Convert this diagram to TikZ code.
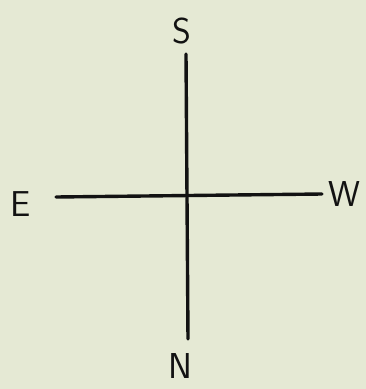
\documentclass[tikz,border=0pt]{standalone}
\usepackage{tikz}
\usepackage{xcolor}
\usetikzlibrary{positioning}
\definecolor{cpaper}{RGB}{229,233,212}
\definecolor{cink}{RGB}{18,18,18}
\tikzset{
  axis/.style={draw=cink, line width=3.4pt, line cap=round},
  lbl/.style={inner sep=0pt, text=cink, font=\fontsize{36}{40}\selectfont\sffamily}
}
\begin{document}
\begin{tikzpicture}[x=1pt, y=-1pt]
    \fill[cpaper] (0,0) rectangle (366,389);
    \useasboundingbox (0,0) rectangle (366,389);
    \coordinate (top) at (186,54);
    \coordinate (bot) at (188,339);
    \coordinate (lft) at (56,197);
    \coordinate (rgt) at (322,194);
    \node[lbl] (S) at (182,31) {S};
    \node[lbl] (N) at (180,366) {N};
    \node[lbl] (E) at (21,204) {E};
    \node[lbl] (W) at (344,194) {W};
    \draw[axis] (top) -- (bot);
    \draw[axis] (lft) -- (rgt);
  \end{tikzpicture}
\end{document}
